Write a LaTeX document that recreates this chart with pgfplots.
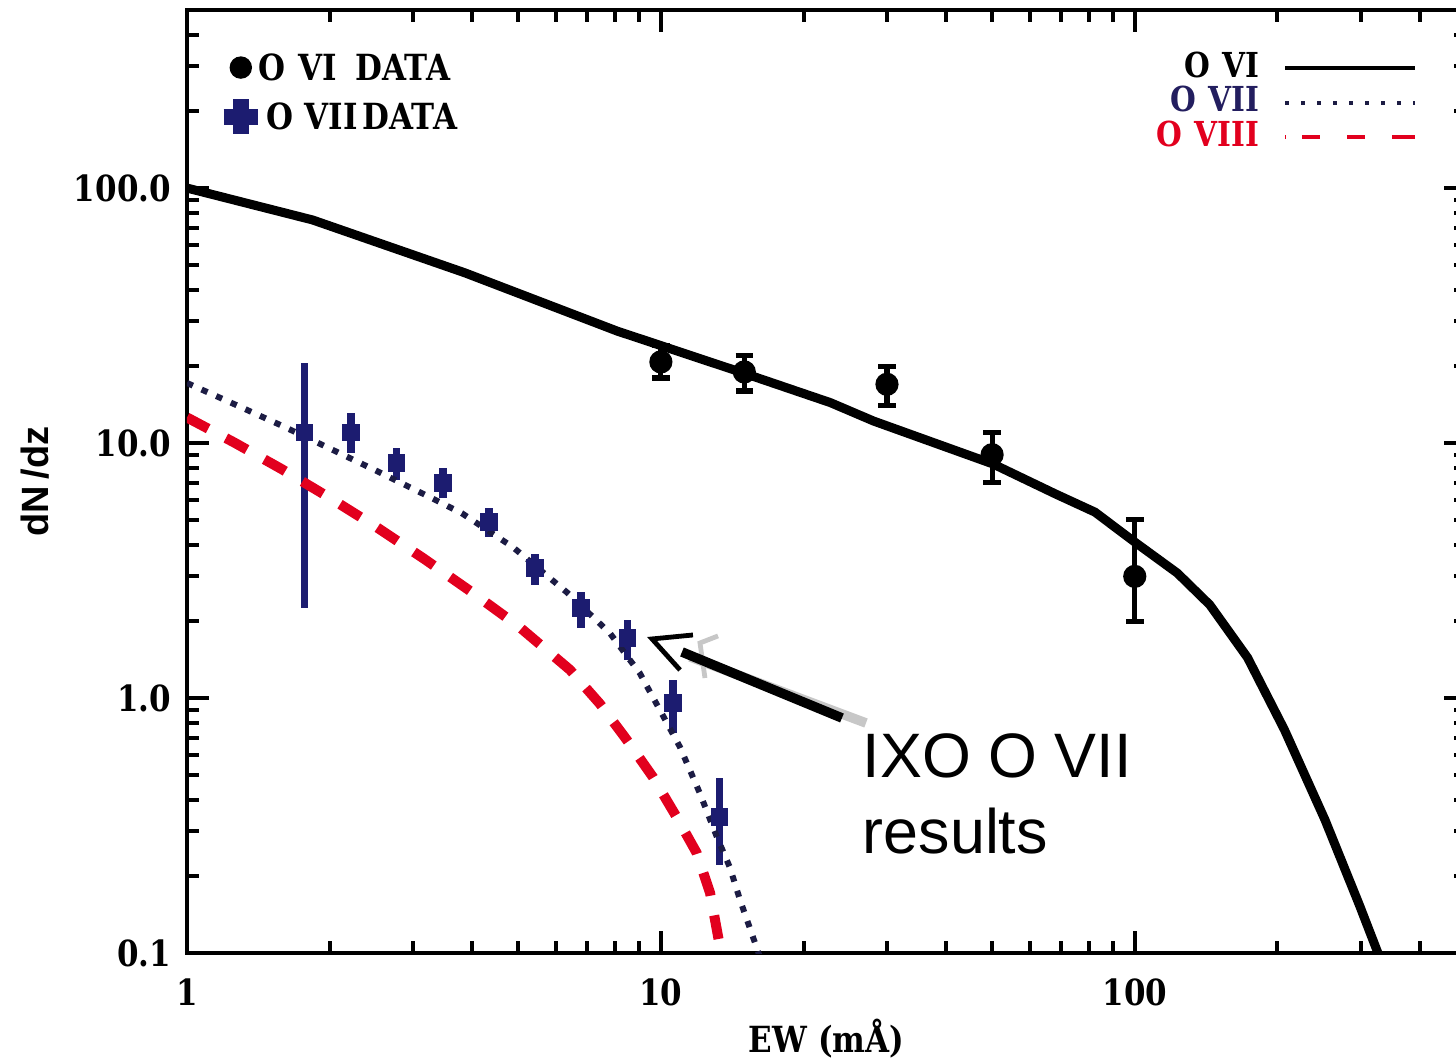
\documentclass[border=0pt]{standalone}
\usepackage{pgfplots}
\usepackage{pgfplotstable}
\pgfplotsset{compat=1.18}
\usepackage{fontspec}
\setmainfont{DejaVu Serif}[FakeStretch=0.86]
\newfontfamily\sansfont{Liberation Sans}

\definecolor{navy}{RGB}{28,28,112}
\definecolor{dotnavy}{RGB}{28,28,68}
\definecolor{legnavy}{RGB}{35,30,95}
\definecolor{oxred}{RGB}{226,0,30}

% O VI absorbers: EW, dN/dz, upper and lower errors
\pgfplotstableread{
x    y     ep   em
10   20.8  3.4  2.8
15   19.0  3.1  3.0
30   17.0  3.0  3.0
50   9.0   2.0  2.0
100  3.0   2.0  1.0
}\ovidata

% O VII absorbers
\pgfplotstableread{
x     y      ep     em
1.77  11.0   9.6    8.75
2.22  11.0   2.1    1.86
2.77  8.35   1.21   1.19
3.47  6.97   1.01   0.89
4.34  4.90   0.66   0.62
5.42  3.23   0.44   0.46
6.78  2.25   0.35   0.37
8.50  1.72   0.30   0.31
10.6  0.956  0.224  0.227
13.3  0.341  0.145  0.120
}\oviidata

% model curves
\pgfplotstableread{
x     y
1     100
1.84  75
3.86  46.5
8.08  27.5
14.96 18.8
22.8  14.4
28.1  12.2
50.2  8.28
68.1  6.31
82.4  5.36
100   4.09
123   3.09
144   2.32
173   1.44
207   0.75
252   0.333
298   0.154
326   0.1
340   0.08
}\ovimodel

\pgfplotstableread{
x      y
1      17.2
1.259  14.2
1.585  11.7
1.995  9.55
2.512  7.78
3.162  6.30
3.80   5.31
4.87   3.91
6.33   2.60
7.80   1.80
9.03   1.25
9.95   0.898
10.97  0.643
12.08  0.424
13.13  0.285
13.98  0.217
14.7   0.161
15.9   0.106
16.4   0.09
}\oviimodel

\pgfplotstableread{
x      y
1      12.6
1.259  10.04
1.585  7.90
1.995  6.12
2.512  4.68
3.162  3.52
3.981  2.61
5.012  1.91
6.43   1.29
7.43   0.951
8.48   0.684
9.62   0.490
10.8   0.341
11.9   0.247
12.7   0.172
13.4   0.1
13.6   0.09
}\oviiimodel

\begin{document}
\begin{tikzpicture}
\begin{axis}[
  scale only axis, width=319.75pt, height=235.8pt,
  xmode=log, ymode=log,
  xmin=1, xmax=500, ymin=0.1, ymax=500,
  xtick={1,10,100}, xticklabels={1,10,100},
  ytick={0.1,1,10,100}, yticklabels={0.1,1.0,10.0,100.0},
  minor xtick={2,3,4,5,6,7,8,9,20,30,40,50,60,70,80,90,200,300,400},
  minor ytick={0.2,0.3,0.4,0.5,0.6,0.7,0.8,0.9,2,3,4,5,6,7,8,9,20,30,40,50,60,70,80,90,200,300,400},
  ticklabel style={font=\fontsize{9}{10}\selectfont\bfseries},
  xticklabel style={yshift=-3pt},
  yticklabel style={xshift=-0.5pt},
  axis line style={line width=1pt},
  tick style={line width=1pt, black},
  major tick length=5.5pt, minor tick length=3pt,
  xlabel={EW (mÅ)},
  xlabel style={font=\fontsize{9}{10}\selectfont\bfseries, at={(axis description cs:0.5,-0.105)}, anchor=base},
  ylabel={dN\,/dz},
  ylabel style={font=\sansfont\bfseries\fontsize{9.5}{10}\selectfont, at={(axis description cs:-0.1188,0.5)}, anchor=center},
  legend style={at={(axis description cs:0.028,0.9544)}, anchor=north west, draw=none, fill=none,
    inner sep=0pt, row sep=3.25pt, font=\fontsize{9}{10}\selectfont\bfseries,
    nodes={inner sep=0pt},
    /tikz/every even column/.append style={column sep=2.8pt}},
  legend cell align=left,
  legend image code/.code={\draw[#1] plot coordinates {(0pt,0.6pt)};},
]

% data points with capped error bars
\addplot[only marks, mark=*, mark size=2.7pt, black, forget plot,
  error bars/.cd, y dir=both, y explicit, error mark=-,
  error bar style={line width=1.3pt, black},
  error mark options={rotate=90, line width=1.3pt, mark size=2.2pt, black}]
  table[x=x, y=y, y error plus=ep, y error minus=em] {\ovidata};

\addplot[only marks, mark=square*, mark size=2pt, navy, forget plot,
  error bars/.cd, y dir=both, y explicit, error mark=none,
  error bar style={line width=1.9pt, navy}]
  table[x=x, y=y, y error plus=ep, y error minus=em] {\oviidata};

% model curves
\addplot[line width=2.25pt, black, forget plot] table {\ovimodel};
\addplot[line width=1.5pt, dotnavy, dash pattern=on 1.6pt off 2.4pt, forget plot] table {\oviimodel};
\addplot[line width=2.5pt, oxred, dash pattern=on 6pt off 5pt, forget plot] table {\oviiimodel};

% data legend
\addlegendimage{only marks, mark=*, mark size=2.6pt, black}
\addlegendentry{O\hspace{3.5pt}VI\hspace{4.5pt}DATA}
\addlegendimage{only marks, mark=+, mark size=4.3pt, line width=4pt, navy}
\addlegendentry{\hspace{2pt}O\hspace{3pt}VII\hspace{1.2pt}DATA}

% model legend
\node[anchor=base east, inner sep=0pt, font=\fontsize{8.6}{9}\selectfont\bfseries] at (rel axis cs:0.8389,0.9279) {O\hspace{3pt}VI};
\node[anchor=base east, inner sep=0pt, font=\fontsize{8.6}{9}\selectfont\bfseries, text=legnavy] at (rel axis cs:0.8389,0.8918) {O\hspace{3pt}VII};
\node[anchor=base east, inner sep=0pt, font=\fontsize{8.6}{9}\selectfont\bfseries, text=oxred] at (rel axis cs:0.8389,0.8547) {O\hspace{3pt}VIII};
\draw[line width=1pt, black] (rel axis cs:0.8585,0.9385) -- (rel axis cs:0.9601,0.9385);
\draw[line width=1pt, dotnavy, dash pattern=on 1pt off 3pt] (rel axis cs:0.8585,0.9014) -- (rel axis cs:0.9601,0.9014);
\draw[line width=1pt, oxred, dash pattern=on 0.3pt off 4pt on 4.5pt off 6.75pt on 4.5pt off 6.75pt on 6pt] (rel axis cs:0.8585,0.8653) -- (rel axis cs:0.9601,0.8653);

% annotation arrow and label
\draw[line width=2.4pt, black!22] (rel axis cs:0.3933,0.3139) -- (rel axis cs:0.5309,0.2439);
\draw[line width=1.2pt, black!22] (rel axis cs:0.4152,0.3362) -- (rel axis cs:0.4011,0.3287) -- (rel axis cs:0.4050,0.2916);
\draw[line width=2.4pt, black] (rel axis cs:0.3870,0.3192) -- (rel axis cs:0.5121,0.2492);
\draw[line width=1.2pt, black] (rel axis cs:0.3956,0.3372) -- (rel axis cs:0.3636,0.3330) -- (rel axis cs:0.3855,0.3001);
\node[anchor=base west, inner sep=0pt, font=\sansfont\fontsize{15.7}{18}\selectfont] at (rel axis cs:0.5278,0.1856) {IXO O VII};
\node[anchor=base west, inner sep=0pt, font=\sansfont\fontsize{15.7}{18}\selectfont] at (rel axis cs:0.5278,0.1060) {results};
\end{axis}
\pgfresetboundingbox
\path[use as bounding box] ([shift={(-46.75pt,-26.5pt)}]current axis.south west) rectangle ([shift={(-2.5pt,2.45pt)}]current axis.north east);
\end{tikzpicture}
\end{document}
